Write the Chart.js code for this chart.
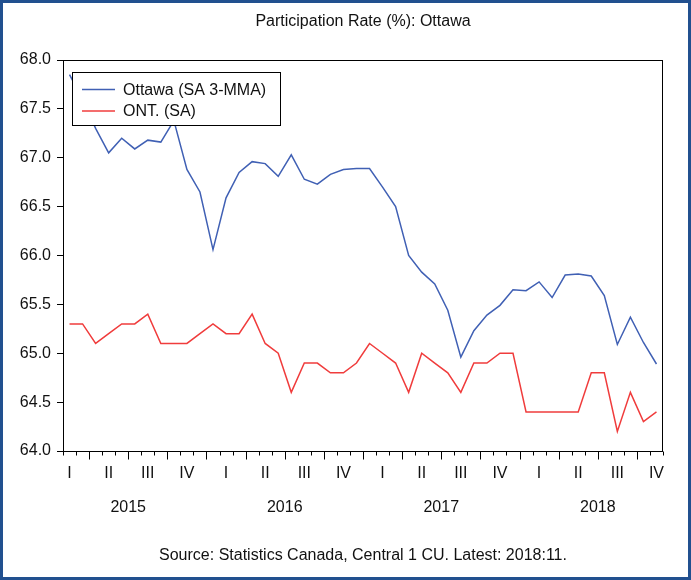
<!DOCTYPE html>
<html><head><meta charset="utf-8">
<script src="https://cdn.jsdelivr.net/npm/chart.js@4.4.0/dist/chart.umd.min.js"></script>
<style>
html,body{margin:0;padding:0;background:#fff;}
#wrap{position:relative;width:691px;height:580px;}
#frame{position:absolute;left:0;top:0;width:691px;height:580px;box-sizing:border-box;border:3px solid #21508f;pointer-events:none;}
canvas{display:block;}
</style></head><body>
<div id="wrap"><canvas id="c" width="691" height="580"></canvas><div id="frame"></div></div>
<script>
const chartTitle = 'Participation Rate (%): Ottawa';
const sourceNote = 'Source: Statistics Canada, Central 1 CU. Latest: 2018:11.';
const seriesNames = ['Ottawa (SA 3-MMA)', 'ONT. (SA)'];

const months = [
  '2015-02','2015-03','2015-04','2015-05','2015-06','2015-07','2015-08','2015-09','2015-10','2015-11','2015-12',
  '2016-01','2016-02','2016-03','2016-04','2016-05','2016-06','2016-07','2016-08','2016-09','2016-10','2016-11','2016-12',
  '2017-01','2017-02','2017-03','2017-04','2017-05','2017-06','2017-07','2017-08','2017-09','2017-10','2017-11','2017-12',
  '2018-01','2018-02','2018-03','2018-04','2018-05','2018-06','2018-07','2018-08','2018-09','2018-10','2018-11'
];

const ottawa = [
  67.85, 67.60, 67.30, 67.05, 67.20, 67.09, 67.18, 67.16, 67.38, 66.88, 66.65,
  66.06, 66.59, 66.85, 66.96, 66.94, 66.81, 67.03, 66.78, 66.73, 66.83, 66.88, 66.89,
  66.89, 66.70, 66.50, 66.00, 65.83, 65.71, 65.44, 64.96, 65.23, 65.39, 65.49, 65.65,
  65.64, 65.73, 65.57, 65.80, 65.81, 65.79, 65.59, 65.09, 65.37, 65.11, 64.89
];

const ontario = [
  65.3, 65.3, 65.1, 65.2, 65.3, 65.3, 65.4, 65.1, 65.1, 65.1, 65.2,
  65.3, 65.2, 65.2, 65.4, 65.1, 65.0, 64.6, 64.9, 64.9, 64.8, 64.8, 64.9,
  65.1, 65.0, 64.9, 64.6, 65.0, 64.9, 64.8, 64.6, 64.9, 64.9, 65.0, 65.0,
  64.4, 64.4, 64.4, 64.4, 64.4, 64.8, 64.8, 64.2, 64.6, 64.3, 64.4
];

const quarterNames = ['I', 'II', 'III', 'IV'];
const yearLabels = ['2015', '2016', '2017', '2018'];
const yTicks = { min: 64, max: 68, step: 0.5 };

const FONT = "'Liberation Sans', Arial, sans-serif";
const TXT = '#111';
const BLUE = '#4060b4';
const RED = '#f03c3c';

// year label positions: boundary between June and July of each year (in month-index units)
const yearPos = yearLabels.map(y => months.indexOf(y + '-07') - 0.5);

function quarterLabel(i) {
  const m = +months[i].slice(5);
  return (m % 3 === 2) ? quarterNames[(m - 2) / 3] : '';
}

const decor = {
  id: 'decor',
  afterDatasetsDraw(chart) {
    const { ctx, chartArea: a, scales } = chart;
    const x = scales.x;
    ctx.save();
    // plot frame
    ctx.strokeStyle = '#000';
    ctx.lineWidth = 1;
    ctx.strokeRect(Math.round(a.left) + 0.5, Math.round(a.top) + 0.5,
                   Math.round(a.right - a.left) - 1, Math.round(a.bottom - a.top));
    // month tick marks (longer at quarter starts)
    const n = months.length;
    const step = x.getPixelForValue(1) - x.getPixelForValue(0);
    const b = Math.round(a.bottom) + 0.5;
    ctx.beginPath();
    for (let k = 0; k <= n; k++) {
      const px = Math.round(x.getPixelForValue(k) - step / 2) + 0.5;
      const m = k < n ? +months[k].slice(5) : 0;
      const major = k < n && (m - 1) % 3 === 0;
      ctx.moveTo(px, b);
      ctx.lineTo(px, b + (major ? 8 : 4));
    }
    ctx.stroke();

    // legend box (inside the plot area)
    const lx = 72.5, ly = 72.5, lw = 208, lh = 53;
    ctx.fillStyle = '#fff';
    ctx.fillRect(lx, ly, lw, lh);
    ctx.strokeStyle = '#000';
    ctx.strokeRect(lx, ly, lw, lh);
    const rows = [89.5, 111];
    chart.data.datasets.forEach((ds, i) => {
      ctx.strokeStyle = ds.borderColor;
      ctx.lineWidth = 1.5;
      ctx.beginPath();
      ctx.moveTo(82, rows[i]);
      ctx.lineTo(115, rows[i]);
      ctx.stroke();
      ctx.fillStyle = TXT;
      ctx.font = '16px ' + FONT;
      ctx.textAlign = 'left';
      ctx.textBaseline = 'middle';
      ctx.fillText(ds.label, 123, rows[i] + 1);
    });
    ctx.restore();
  },
  afterDraw(chart) {
    const { ctx, chartArea: a } = chart;
    const cx = (a.left + a.right) / 2;
    ctx.save();
    ctx.fillStyle = TXT;
    ctx.font = '16px ' + FONT;
    ctx.textAlign = 'center';
    ctx.textBaseline = 'middle';
    ctx.fillText(chartTitle, cx, 22);
    ctx.fillText(sourceNote, cx, 556);
    ctx.restore();
  }
};

new Chart(document.getElementById('c'), {
  type: 'line',
  data: {
    labels: months,
    datasets: [
      { label: seriesNames[0], data: ottawa, borderColor: BLUE, borderWidth: 1.5, pointRadius: 0, tension: 0, fill: false },
      { label: seriesNames[1], data: ontario, borderColor: RED, borderWidth: 1.5, pointRadius: 0, tension: 0, fill: false }
    ]
  },
  options: {
    responsive: false,
    animation: false,
    devicePixelRatio: 1,
    layout: { padding: { top: 60, left: 0, right: 28, bottom: 59 } },
    plugins: { legend: { display: false }, tooltip: { enabled: false }, title: { display: false } },
    scales: {
      x: {
        type: 'category',
        position: 'bottom',
        offset: true,
        grid: { display: false, drawTicks: false, tickLength: 0 },
        border: { display: false },
        ticks: {
          autoSkip: false, maxRotation: 0, minRotation: 0, padding: 13,
          color: TXT, font: { family: FONT, size: 16 },
          callback: (v, i) => quarterLabel(i)
        },
        afterFit(s) { s.height = 40; }
      },
      xYear: {
        type: 'linear',
        position: 'bottom',
        min: -0.5,
        max: months.length - 0.5,
        grid: { display: false, drawTicks: false, tickLength: 0 },
        border: { display: false },
        ticks: {
          autoSkip: false, maxRotation: 0, minRotation: 0, padding: 7,
          color: TXT, font: { family: FONT, size: 16 },
          callback: (v) => { const j = yearPos.indexOf(v); return j >= 0 ? yearLabels[j] : ''; }
        },
        afterBuildTicks(s) { s.ticks = yearPos.map(v => ({ value: v })); },
        afterFit(s) { s.height = 30; }
      },
      y: {
        min: yTicks.min,
        max: yTicks.max,
        grid: { drawOnChartArea: false, drawTicks: true, tickLength: 6, color: '#000' },
        border: { display: false },
        ticks: {
          stepSize: yTicks.step, padding: 6,
          color: TXT, font: { family: FONT, size: 16 },
          callback: v => v.toFixed(1)
        },
        afterFit(s) { s.width = 63; }
      }
    }
  },
  plugins: [decor]
});
</script>
</body></html>
